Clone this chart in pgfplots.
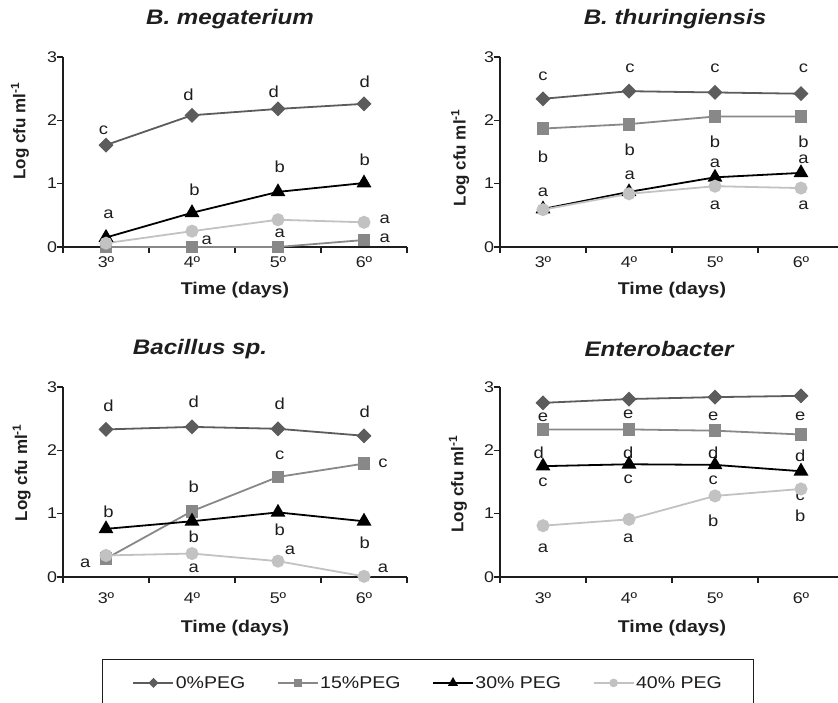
\documentclass[border=0pt]{standalone}
\usepackage{fontspec}
\setmainfont{Liberation Sans}[FakeStretch=1.15]
\newfontfamily\ylabfam{Liberation Sans}
\usepackage{pgfplots}
\pgfplotsset{compat=1.18}

\definecolor{c0}{HTML}{5C5C5C}
\definecolor{c15}{HTML}{888888}
\definecolor{c30}{HTML}{000000}
\definecolor{c40}{HTML}{C2C2C2}
\definecolor{ink}{HTML}{1E1E1E}

\newcommand\tickfont{\fontsize{15.5}{18}\selectfont}
\newcommand\lblfont{\fontsize{16}{18}\selectfont}
\newcommand\legfont{\fontsize{17}{20}\selectfont}
\newcommand\xlabfont{\bfseries\fontsize{17}{20}\selectfont}
\newcommand\ylabfont{\ylabfam\bfseries\fontsize{17}{20}\selectfont}
\newcommand\titlefont{\bfseries\itshape\fontsize{21}{24}\selectfont}
\tikzset{lbl/.style={font=\lblfont, inner sep=0pt, text=ink}}
\newcommand\lb[3]{\node[lbl] at (axis cs:#1,#2) {#3};}

\pgfplotsset{
  panel/.style={
    width=344pt, height=190pt, scale only axis,
    anchor=south west,
    xmin=0.5, xmax=4.5, ymin=0, ymax=3,
    axis lines*=left,
    axis line style={line width=1.3pt, ink},
    xtick={1,2,3,4}, xticklabels={3º,4º,5º,6º},
    ytick={0,1,2,3}, yticklabels={0,1,2,3},
    minor xtick={0.5,1.5,2.5,3.5,4.5},
    minor ytick={0,1,2,3},
    major tick length=0pt, minor tick length=6pt,
    tick align=outside,
    tick style={line width=1.1pt, ink},
    ticklabel style={font=\tickfont, text=ink},
    xticklabel style={anchor=center},
    yticklabel style={anchor=center, xshift=-11pt},
    clip=false,
    title style={font=\titlefont, text=ink, at={(axis description cs:0.5,1)}, anchor=center, yshift=32pt},
    xlabel={Time (days)},
    ylabel={Log cfu ml\textsuperscript{-1}},
    xlabel style={font=\xlabfont, text=ink, at={(axis description cs:0.5,0)}, anchor=center},
    ylabel style={font=\ylabfont, text=ink, anchor=center},
    legend image code/.code={
      \draw[mark repeat=2, mark phase=2, /tikz/every mark/.append style={scale=0.6}]
        plot coordinates {(0pt,0pt) (20pt,0pt) (40pt,0pt)};
    },
  },
  s0/.style={c0, line width=1.8pt, mark=square*, mark size=4.4pt, mark options={rotate=45}},
  s15/.style={c15, line width=1.8pt, mark=square*, mark size=5.5pt},
  s30/.style={c30, line width=1.8pt, mark=triangle*, mark size=6.8pt},
  s40/.style={c40, line width=1.8pt, mark=*, mark size=5.6pt},
}

\begin{document}
\begin{tikzpicture}
\useasboundingbox (0,0) rectangle (838pt,703pt);
\clip (0,0) rectangle (838pt,703pt);

% B. megaterium
\begin{axis}[panel, at={(63pt,456pt)},
  title={B. megaterium}, title style={xshift=-5pt},
  ylabel style={at={(axis description cs:-0.125,0.61)}},
  xticklabel style={yshift=-15pt}, xlabel style={yshift=-43pt}]
\addplot[s0] coordinates {(1,1.61) (2,2.08) (3,2.18) (4,2.26)};
\addplot[s15] coordinates {(1,0) (2,0) (3,0) (4,0.11)};
\addplot[s30] coordinates {(1,0.15) (2,0.54) (3,0.87) (4,1.01)};
\addplot[s40] coordinates {(1,0.06) (2,0.25) (3,0.43) (4,0.39)};
\lb{0.97}{1.85}{c} \lb{1.96}{2.40}{d} \lb{2.95}{2.45}{d} \lb{4.01}{2.61}{d}
\lb{1.03}{0.51}{a} \lb{2.03}{0.90}{b} \lb{3.02}{1.27}{b} \lb{4.01}{1.37}{b}
\lb{4.24}{0.43}{a}
\lb{2.17}{0.11}{a} \lb{3.02}{0.22}{a} \lb{4.24}{0.14}{a}
\end{axis}

% B. thuringiensis
\begin{axis}[panel, at={(500pt,456pt)},
  title={B. thuringiensis}, title style={xshift=3pt},
  ylabel style={at={(axis description cs:-0.116,0.47)}},
  xticklabel style={yshift=-15pt}, xlabel style={yshift=-43pt}]
\addplot[s0] coordinates {(1,2.34) (2,2.46) (3,2.44) (4,2.42)};
\addplot[s15] coordinates {(1,1.87) (2,1.94) (3,2.06) (4,2.06)};
\addplot[s30] coordinates {(1,0.60) (2,0.87) (3,1.10) (4,1.17)};
\addplot[s40] coordinates {(1,0.59) (2,0.84) (3,0.96) (4,0.93)};
\lb{1.00}{2.69}{c} \lb{2.01}{2.82}{c} \lb{3.00}{2.82}{c} \lb{4.03}{2.82}{c}
\lb{1.00}{1.43}{b} \lb{2.01}{1.53}{b} \lb{3.00}{1.66}{b} \lb{4.03}{1.66}{b}
\lb{1.00}{0.87}{a} \lb{2.01}{1.14}{a} \lb{3.00}{1.32}{a} \lb{4.03}{1.39}{a}
\lb{3.00}{0.66}{a} \lb{4.03}{0.66}{a}
\end{axis}

% Bacillus sp.
\begin{axis}[panel, at={(63pt,126pt)},
  title={Bacillus sp.}, title style={xshift=-35pt},
  ylabel style={at={(axis description cs:-0.12,0.55)}},
  xticklabel style={yshift=-21pt}, xlabel style={yshift=-51pt},
  legend columns=4,
  legend style={at={(axis description cs:0.113,-0.432)}, anchor=north west,
    draw=ink, line width=1.3pt, font=\legfont, text=ink,
    inner xsep=30pt, inner ysep=15pt,
    nodes={inner sep=1.5pt},
    cells={anchor=west},
    /tikz/every even column/.append style={column sep=30pt}}]
\addplot[s0] coordinates {(1,2.33) (2,2.37) (3,2.34) (4,2.23)};
\addplot[s15] coordinates {(1,0.29) (2,1.04) (3,1.58) (4,1.79)};
\addplot[s30] coordinates {(1,0.76) (2,0.88) (3,1.02) (4,0.88)};
\addplot[s40] coordinates {(1,0.34) (2,0.37) (3,0.25) (4,0.01)};
\legend{0\%PEG, 15\%PEG, 30\% PEG, 40\% PEG}
\lb{1.03}{2.71}{d} \lb{2.02}{2.76}{d} \lb{3.02}{2.74}{d} \lb{4.01}{2.61}{d}
\lb{0.76}{0.21}{a} \lb{2.02}{1.42}{b} \lb{3.02}{1.92}{c} \lb{4.22}{1.79}{c}
\lb{1.03}{1.03}{b} \lb{2.02}{0.63}{b} \lb{3.02}{0.75}{b} \lb{4.01}{0.54}{b}
\lb{2.02}{0.13}{a} \lb{3.14}{0.42}{a} \lb{4.22}{0.13}{a}
\end{axis}

% Enterobacter
\begin{axis}[panel, at={(500pt,126pt)},
  title={Enterobacter}, title style={xshift=-13pt},
  ylabel style={at={(axis description cs:-0.122,0.49)}},
  xticklabel style={yshift=-21pt}, xlabel style={yshift=-51pt}]
\addplot[s0] coordinates {(1,2.75) (2,2.81) (3,2.84) (4,2.86)};
\addplot[s15] coordinates {(1,2.33) (2,2.33) (3,2.31) (4,2.25)};
\addplot[s30] coordinates {(1,1.75) (2,1.78) (3,1.77) (4,1.67)};
\addplot[s40] coordinates {(1,0.81) (2,0.91) (3,1.28) (4,1.39)};
\lb{1.00}{2.52}{e} \lb{1.99}{2.57}{e} \lb{2.98}{2.54}{e} \lb{3.99}{2.54}{e}
\lb{0.95}{1.96}{d} \lb{1.99}{1.96}{d} \lb{2.98}{1.96}{d} \lb{3.99}{1.91}{d}
\lb{1.00}{1.49}{c} \lb{1.99}{1.55}{c} \lb{2.98}{1.52}{c} \lb{3.99}{1.28}{c}
\lb{1.00}{0.46}{a} \lb{1.99}{0.61}{a} \lb{2.98}{0.88}{b} \lb{3.99}{0.97}{b}
\end{axis}
\end{tikzpicture}
\end{document}
